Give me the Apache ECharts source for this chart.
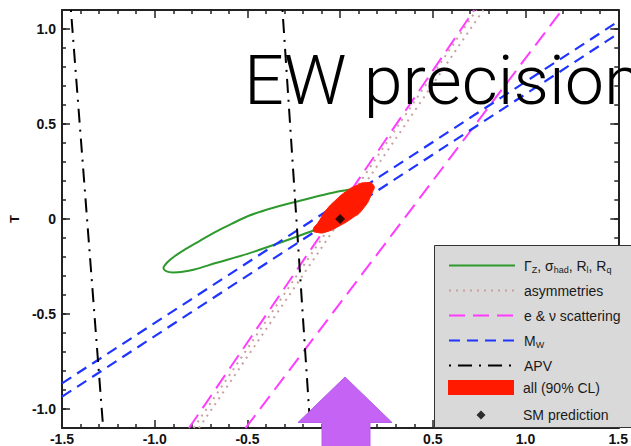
<!DOCTYPE html>
<html><head><meta charset="utf-8">
<script src="https://cdn.jsdelivr.net/npm/echarts@6/dist/echarts.min.js"></script>
<style>html,body{margin:0;padding:0;background:#fff;}#c{width:631px;height:446px;}</style>
</head><body><div id="c"></div>
<script>
// ---- data (S, T) ----
const xTicks = [-1.5, -1.0, -0.5, 0, 0.5, 1.0, 1.5];
const yTicks = [-1.0, -0.5, 0, 0.5, 1.0];
const yMinorTicks = [-1.0, -0.9, -0.8, -0.7, -0.6, -0.5, -0.4, -0.3, -0.2, -0.1, 0, 0.1, 0.2, 0.3, 0.4, 0.5, 0.6, 0.7, 0.8, 0.9, 1.0];
const zWidthEllipse = [
  [-0.233, 0.092], [-0.128, 0.118], [-0.023, 0.142], [0.056, 0.155], [0.114, 0.163], [0.156, 0.158],
  [0.125, 0.137], [0.056, 0.084], [-0.023, 0.011], [-0.128, -0.053], [-0.181, -0.074], [-0.321, -0.124],
  [-0.496, -0.182], [-0.672, -0.232], [-0.786, -0.266], [-0.849, -0.278], [-0.902, -0.281], [-0.939, -0.274],
  [-0.953, -0.258], [-0.933, -0.229], [-0.891, -0.195], [-0.847, -0.166], [-0.759, -0.116], [-0.672, -0.068],
  [-0.586, -0.026], [-0.496, 0.016], [-0.365, 0.058], [-0.233, 0.092]
];
const asymLineA = [[-0.762, -1.1], [0.772, 1.1]];
const asymLineB = [[-0.790, -1.1], [0.735, 1.1]];
const scatLineA = [[-0.815, -1.1], [0.723, 1.1]];
const scatLineB = [[-0.510, -1.1], [1.197, 1.1]];
const mwLineA = [[-1.5, -0.865], [1.5, 1.040]];
const mwLineB = [[-1.5, -0.935], [1.5, 0.976]];
const apvLineA = [[-1.452, 1.1], [-1.278, -1.1]];
const apvLineB = [[-0.311, 1.1], [-0.161, -1.1]];
const allFit = [
  [-0.145, -0.058], [-0.117, -0.016], [-0.075, 0.047], [-0.023, 0.100], [0.030, 0.144],
  [0.083, 0.174], [0.135, 0.191], [0.179, 0.179], [0.172, 0.137], [0.118, 0.047],
  [0.065, 0.005], [0.004, -0.032], [-0.075, -0.068], [-0.123, -0.071]
];
const smPrediction = [[0, 0]];
const names = ['Γ_Z, σ_had, R_l, R_q', 'asymmetries', 'e & ν scattering', 'M_W', 'APV', 'all (90% CL)', 'SM prediction'];

const chart = echarts.init(document.getElementById('c'), null, {renderer: 'svg'});
const axisCol = '#222';
const lab = {fontFamily: 'Liberation Sans', fontWeight: 'bold', fontSize: 14, color: '#111'};
function lineSeries(name, data, color, width, type) {
  return {type: 'line', name: name, data: data, symbol: 'none', silent: true, z: 2,
    lineStyle: {color: color, width: width, type: type}, itemStyle: {color: color}, animation: false};
}
const legendText = {fontFamily: 'Liberation Sans', fontSize: 14, color: '#1a1a1a', lineHeight: 17, padding: [0, 0, 0, 4],
  rich: {sub: {fontFamily: 'Liberation Sans', fontSize: 9, color: '#1a1a1a', verticalAlign: 'bottom', lineHeight: 12}}};
const legendFmt = n => n.replace(/_([A-Za-z]+)/g, '{sub|$1}');
const minorAxis = pos => ({type: 'value', min: -1.1, max: 1.1, position: pos,
  axisLine: {show: false, onZero: false}, splitLine: {show: false}, axisLabel: {show: false},
  axisTick: {show: true, inside: true, length: 4, customValues: yMinorTicks, lineStyle: {color: axisCol, width: 1.5}}});

chart.setOption({
  animation: false,
  grid: {left: 59.3, right: 2, top: 10, bottom: 18, containLabel: false},
  xAxis: [
    {type: 'value', min: -1.5, max: 1.5, interval: 0.5, position: 'bottom',
     axisLine: {show: true, onZero: false, lineStyle: {color: axisCol, width: 2}},
     axisTick: {show: true, inside: true, length: 8, lineStyle: {color: axisCol, width: 1.5}},
     minorTick: {show: true, splitNumber: 5, length: 4, lineStyle: {color: axisCol, width: 1.5}},
     splitLine: {show: false},
     axisLabel: Object.assign({margin: 4, showMaxLabel: true, formatter: v => v === 0 ? '0' : v.toFixed(1)}, lab)},
    {type: 'value', min: -1.5, max: 1.5, interval: 0.5, position: 'top',
     axisLine: {show: true, onZero: false, lineStyle: {color: axisCol, width: 2}},
     axisTick: {show: true, inside: true, length: 8, lineStyle: {color: axisCol, width: 1.5}},
     minorTick: {show: true, splitNumber: 5, length: 4, lineStyle: {color: axisCol, width: 1.5}},
     splitLine: {show: false}, axisLabel: {show: false}}
  ],
  yAxis: [
    {type: 'value', min: -1.1, max: 1.1, position: 'left', name: 'T', nameLocation: 'middle', nameGap: 38,
     nameTextStyle: {fontFamily: 'Liberation Sans', fontWeight: 'bold', fontSize: 13, color: '#111'},
     axisLine: {show: true, onZero: false, lineStyle: {color: axisCol, width: 2}},
     axisTick: {show: true, inside: true, length: 8, customValues: yTicks, lineStyle: {color: axisCol, width: 1.5}},
     splitLine: {show: false},
     axisLabel: Object.assign({margin: 6, customValues: yTicks, formatter: v => v === 0 ? '0' : v.toFixed(1)}, lab)},
    minorAxis('left'),
    {type: 'value', min: -1.1, max: 1.1, position: 'right',
     axisLine: {show: true, onZero: false, lineStyle: {color: axisCol, width: 2}}, splitLine: {show: false}, axisLabel: {show: false},
     axisTick: {show: true, inside: true, length: 8, customValues: yTicks, lineStyle: {color: axisCol, width: 1.5}}},
    minorAxis('right')
  ],
  legend: [
    {data: names.slice(0, 5), orient: 'vertical', left: 448, top: 257, padding: 0, itemWidth: 66, itemHeight: 14, itemGap: 8,
     selectedMode: false, textStyle: legendText, formatter: legendFmt, z: 5, itemStyle: {opacity: 0, borderWidth: 0}},
    {data: [{name: names[5], icon: 'rect'}], orient: 'vertical', left: 448, top: 379, padding: 0, itemWidth: 66, itemHeight: 15,
     selectedMode: false, textStyle: legendText, z: 5},
    {data: [{name: names[6], icon: 'diamond'}], orient: 'vertical', left: 476.5, top: 406.5, padding: 0, itemWidth: 9, itemHeight: 9,
     selectedMode: false, textStyle: Object.assign({}, legendText, {padding: [0, 0, 0, 32.5]}), z: 5}
  ],
  graphic: [
    {type: 'rect', z: 3, shape: {x: 434.5, y: 245.5, width: 220, height: 182}, style: {fill: '#d9d9d9', stroke: '#333', lineWidth: 1}},
    {type: 'text', z: 6, x: 244, y: 80.5, scaleX: 1.03, style: {text: 'EW precision', font: '300 68px Roboto', fill: '#000', verticalAlign: 'middle', align: 'left'}},
    {type: 'polygon', z: 7, shape: {points: [[345, 377], [392, 422.5], [370, 422.5], [370, 450], [322, 450], [322, 422.5], [298, 422.5]]},
     style: {fill: '#c563f5', stroke: '#b85cec', lineWidth: 1}}
  ],
  series: [
    Object.assign(lineSeries(names[0], zWidthEllipse, '#2e9a2e', 2, 'solid'), {smooth: 0.3}),
    lineSeries(names[1], asymLineA, '#c9a0a0', 2, [2, 5]),
    lineSeries(names[1], asymLineB, '#c9a0a0', 2, [2, 5]),
    lineSeries(names[2], scatLineA, '#ff3cff', 2, [16, 8]),
    lineSeries(names[2], scatLineB, '#ff3cff', 2, [16, 8]),
    lineSeries(names[3], mwLineA, '#1f35ff', 2.2, [11, 7]),
    lineSeries(names[3], mwLineB, '#1f35ff', 2.2, [11, 7]),
    lineSeries(names[4], apvLineA, '#000', 2, [2, 7, 14, 7]),
    lineSeries(names[4], apvLineB, '#000', 2, [2, 7, 14, 7]),
    {type: 'custom', name: names[5], z: 3, itemStyle: {color: '#ff1a00'}, data: [0], silent: true,
     renderItem: function (params, api) {
       const pts = allFit.map(p => api.coord(p));
       return {type: 'polygon', shape: {points: pts, smooth: 0.6}, style: {fill: '#ff1a00', stroke: '#ff1a00', lineWidth: 1}};
     }},
    {type: 'scatter', name: names[6], z: 4, data: smPrediction, symbol: 'diamond', symbolSize: 10, itemStyle: {color: '#000'}, silent: true}
  ]
});
</script></body></html>
